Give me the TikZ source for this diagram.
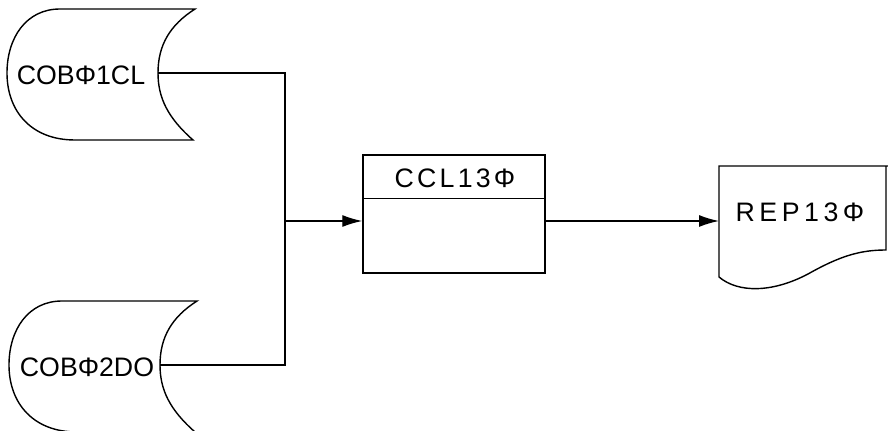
\documentclass[tikz,border=0pt]{standalone}
\usepackage{fontspec}
\newfontfamily\hand{Liberation Sans}
\usetikzlibrary{arrows.meta, positioning, calc}

\begin{document}
\begin{tikzpicture}[
    x=0.025cm, y=-0.025cm, line width=1pt,
    lbl/.style={font=\hand\fontsize{19}{19}\selectfont\addfontfeature{LetterSpace=#1},
        inner sep=0pt},
    lbl/.default=0,
    flow/.style={-{Latex[length=5mm, width=3mm]}},
    box/.style={rectangle, draw, minimum width=4.55cm, minimum height=2.95cm},
    disk/.pic={
        \draw (37,-64) -- (-98,-64)
            .. controls (-132,-64) and (-151,-35) .. (-151,0)
            .. controls (-151,38) and (-127,67) .. (-83,67) -- (35,67)
            .. controls (10,45) and (0,25) .. (0,0)
            .. controls (0,-28) and (12,-48) .. (37,-64) -- cycle;
    },
]
\useasboundingbox (0,0) rectangle (888,431);

% ===== Disk files =====
\pic at (158,73) {disk};
\coordinate (cob1) at (158,73);
\node[lbl] (cob1-name) at (81,75) {COBΦ1CL};

\pic at (160,365) {disk};
\coordinate (cob2) at (160,365);
\node[lbl] (cob2-name) at (87,367) {COBΦ2DO};

% ===== Program box =====
\node[box] (ccl) at (454,214) {};
\draw ($(ccl.north west)+(0,44)$) -- ($(ccl.north east)+(0,44)$);
\node[lbl=12] (ccl-name) at (455,178) {CCL13Φ};

% ===== Report document =====
\draw (888,166) -- (719,166) -- (719,277)
    .. controls (738,293) and (772,293) .. (808,274)
    .. controls (840,256) and (860,250) .. (886,250) -- (886,166);
\coordinate (rep) at (719,221);
\node[lbl=17] (rep-name) at (800,212) {REP13Φ};

% ===== Connectors =====
\coordinate (join) at (285,221);
\draw (cob1) -| (join) |- (cob2);
\draw[flow] (join) -- (join -| ccl.west);
\draw[flow] (ccl.east |- rep) -- (rep);

\end{tikzpicture}
\end{document}
